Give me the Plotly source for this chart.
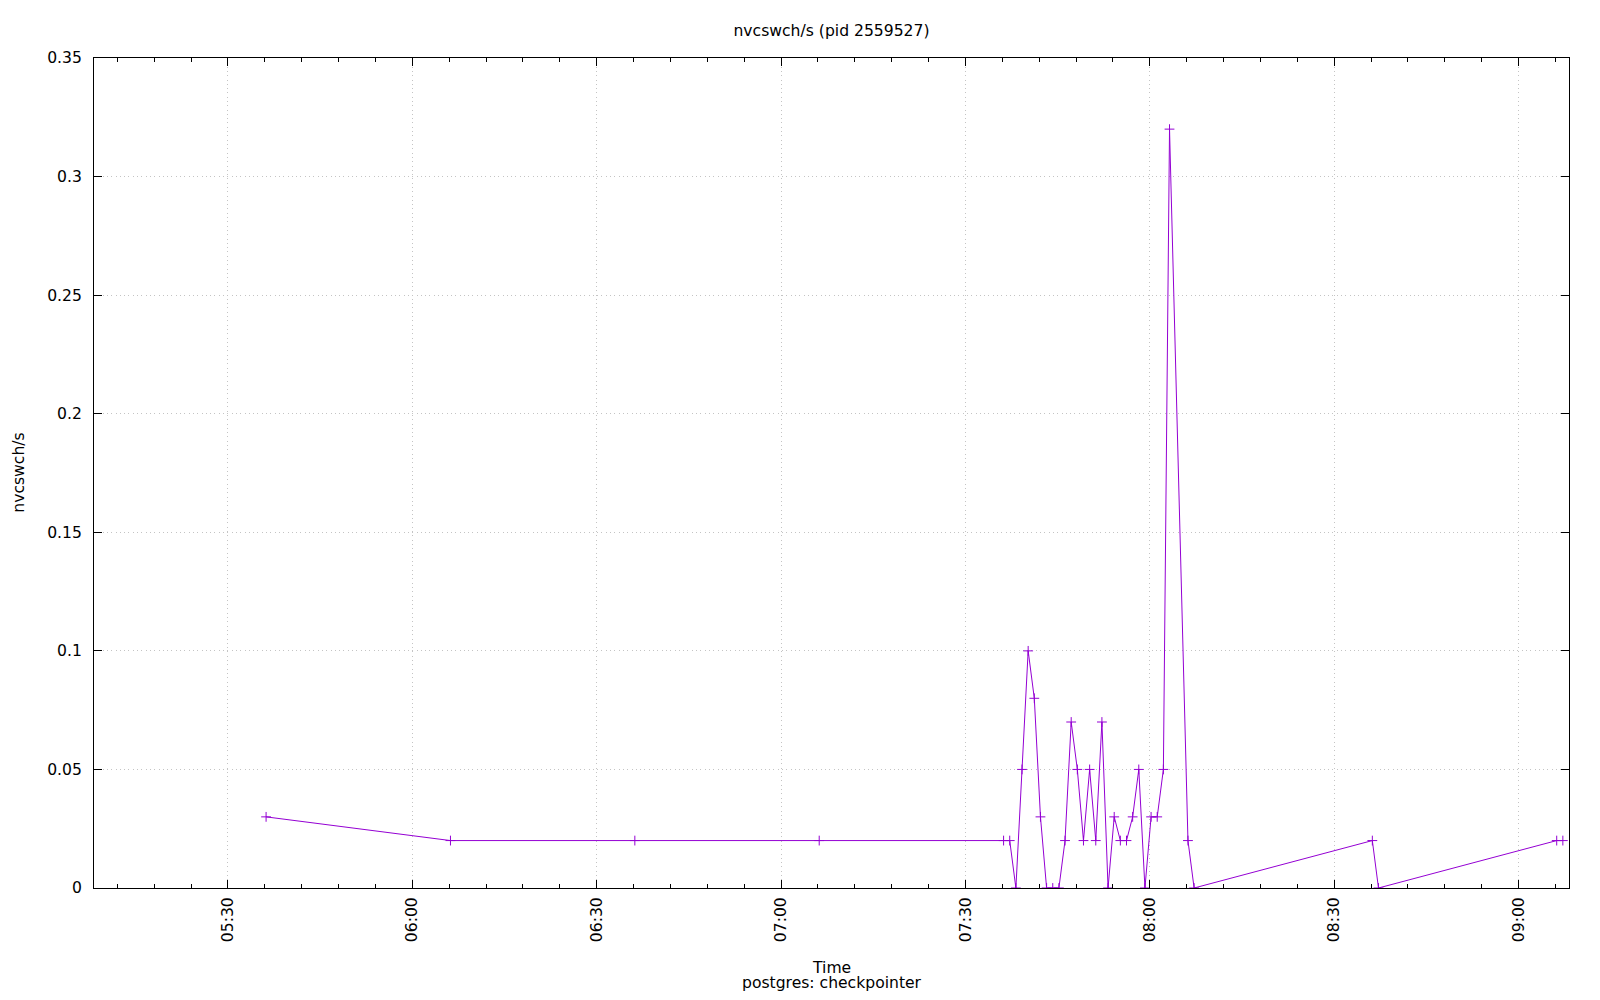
import plotly.graph_objects as go

# ---- data ----
times = [
    "05:36:12", "06:06:12", "06:36:12", "07:06:12",
    "07:36:12", "07:37:12", "07:38:12", "07:39:12", "07:40:12", "07:41:12",
    "07:42:12", "07:43:12", "07:44:12", "07:45:12", "07:46:12", "07:47:12",
    "07:48:12", "07:49:12", "07:50:12", "07:51:12", "07:52:12", "07:53:12",
    "07:54:12", "07:55:12", "07:56:12", "07:57:12", "07:58:12", "07:59:12",
    "08:00:12", "08:01:12", "08:02:12", "08:03:12", "08:06:12", "08:07:12",
    "08:36:12", "08:37:12", "09:06:12", "09:07:12",
]
values = [
    0.03, 0.02, 0.02, 0.02,
    0.02, 0.02, 0.0, 0.05, 0.10, 0.08,
    0.03, 0.0, 0.0, 0.0, 0.02, 0.07,
    0.05, 0.02, 0.05, 0.02, 0.07, 0.0,
    0.03, 0.02, 0.02, 0.03, 0.05, 0.0,
    0.03, 0.03, 0.05, 0.32, 0.02, 0.0,
    0.02, 0.0, 0.02, 0.02,
]
DAY = "2024-01-01 "
x_vals = [DAY + t for t in times]
x_range = [DAY + "05:08:12", DAY + "09:08:12"]
y_ticks = [0, 0.05, 0.1, 0.15, 0.2, 0.25, 0.3, 0.35]
y_tick_text = ["0", "0.05", "0.1", "0.15", "0.2", "0.25", "0.3", "0.35"]

title_text = "nvcswch/s (pid 2559527)"
x_title = "Time"
x_subtitle = "postgres: checkpointer"
y_title = "nvcswch/s"

COLOR = "#9400d3"
FONT = "DejaVu Sans"
FS = 15.6
GRID = "#c4c4c4"
GRID_DASH = "1px,3.3px"

fig = go.Figure()
fig.add_trace(go.Scatter(
    x=x_vals, y=values, mode="lines+markers",
    line=dict(color=COLOR, width=1),
    marker=dict(symbol="cross-thin", size=7, line=dict(color=COLOR, width=1), color=COLOR),
    showlegend=False,
))

fig.update_layout(
    width=1584, height=984,
    margin=dict(l=86, r=23, t=50, b=104, pad=0),
    paper_bgcolor="white", plot_bgcolor="white",
    font=dict(family=FONT, size=FS, color="black"),
    title=dict(text=title_text, x=0.5, xref="paper", y=1 - 22.5 / 984, yref="container",
               xanchor="center", yanchor="middle", font=dict(size=FS, family=FONT)),
    showlegend=False,
)

fig.update_xaxes(
    type="date", range=x_range,
    tick0=DAY + "05:30:00", dtick=30 * 60 * 1000, tickformat="%H:%M",
    tickangle=-90,
    ticks="inside", ticklen=8, tickwidth=1, tickcolor="black",
    showline=True, linecolor="black", linewidth=1, mirror="allticks",
    showgrid=True, gridcolor=GRID, griddash=GRID_DASH, gridwidth=1,
    zeroline=False,
    minor=dict(ticks="inside", ticklen=4, tickcolor="black", tickwidth=1,
               dtick=6 * 60 * 1000, tick0=DAY + "05:30:00", showgrid=False),
    ticklabelstandoff=2,
)
fig.update_yaxes(
    range=[0, 0.35], tickmode="array", tickvals=y_ticks, ticktext=y_tick_text,
    ticks="inside", ticklen=8, tickwidth=1, tickcolor="black",
    showline=True, linecolor="black", linewidth=1, mirror="allticks",
    showgrid=True, gridcolor=GRID, griddash=GRID_DASH, gridwidth=1,
    zeroline=False,
    ticklabelstandoff=8,
)

fig.add_annotation(text=x_title, xref="paper", yref="paper", x=0.5, y=0,
                   xanchor="center", yanchor="middle", yshift=-80,
                   showarrow=False, font=dict(size=FS))
fig.add_annotation(text=x_subtitle, xref="paper", yref="paper", x=0.5, y=0,
                   xanchor="center", yanchor="middle", yshift=-95,
                   showarrow=False, font=dict(size=FS))
fig.add_annotation(text=y_title, xref="paper", yref="paper", x=0, y=0.5,
                   xanchor="center", yanchor="middle", xshift=-75.3, textangle=-90,
                   showarrow=False, font=dict(size=FS))

fig.write_html("out.html")
